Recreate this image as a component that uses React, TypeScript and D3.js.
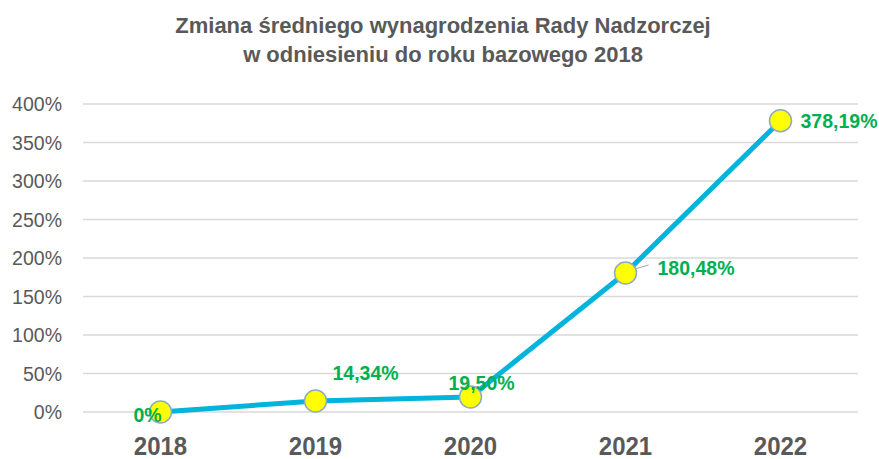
import React from "react";
import * as d3 from "d3";

const years = ["2018", "2019", "2020", "2021", "2022"];
const values = [0, 14.34, 19.5, 180.48, 378.19];
const labels = ["0%", "14,34%", "19,50%", "180,48%", "378,19%"];
const yTicks = [0, 50, 100, 150, 200, 250, 300, 350, 400];
// label offsets relative to the point (dx, dy for text start/baseline)
const labelAnchors: Array<[number, number]> = [
  [-27, 10],
  [17, -21],
  [-22, -7],
  [32, 2],
  [20, 7],
];

const W = 879;
const H = 459;
const left = 83;
const right = 858;
const top = 104;
const bottom = 412;

export default function App() {
  const x = d3.scaleBand<string>().domain(years).range([left, right]);
  const y = d3.scaleLinear().domain([0, 400]).range([bottom, top]);
  const cx = (i: number) => (x(years[i]) as number) + x.bandwidth() / 2;
  const line = d3
    .line<number>()
    .x((_, i) => cx(i))
    .y((d) => y(d));
  const font = "'Liberation Sans', Arial, sans-serif";
  return (
    <svg
      width={W}
      height={H}
      style={{ position: "absolute", left: 0, top: 0, background: "#fff" }}
      fontFamily={font}
    >
      <text x={443} y={33} textAnchor="middle" fontSize={22} fontWeight="bold" fill="#595959">
        Zmiana średniego wynagrodzenia Rady Nadzorczej
      </text>
      <text x={443} y={62} textAnchor="middle" fontSize={22} fontWeight="bold" fill="#595959">
        w odniesieniu do roku bazowego 2018
      </text>
      {yTicks.map((t) => (
        <g key={t}>
          <line x1={left} x2={right} y1={y(t)} y2={y(t)} stroke="#d9d9d9" strokeWidth={1.3} />
          <text x={62} y={y(t) + 7} textAnchor="end" fontSize={19.5} fill="#595959">
            {t}%
          </text>
        </g>
      ))}
      {years.map((yr, i) => (
        <text
          key={yr}
          transform={`translate(${cx(i)},455) scale(1,1.1)`}
          textAnchor="middle"
          fontSize={24}
          fontWeight="bold"
          fill="#595959"
        >
          {yr}
        </text>
      ))}
      <path d={line(values) || ""} fill="none" stroke="#00B4DC" strokeWidth={5} strokeLinejoin="round" />
      {/* leader line for 2021 */}
      <line
        x1={cx(3) + 2}
        y1={y(values[3]) - 2}
        x2={cx(3) + 23}
        y2={y(values[3]) - 8}
        stroke="#a6a6a6"
        strokeWidth={1}
      />
      {values.map((v, i) => (
        <circle key={i} cx={cx(i)} cy={y(v)} r={11} fill="#FFFF00" stroke="#8EA9C8" strokeWidth={1.5} />
      ))}
      {values.map((v, i) => (
        <text
          key={i}
          x={cx(i) + labelAnchors[i][0]}
          y={y(v) + labelAnchors[i][1]}
          fontSize={19.5}
          fontWeight="bold"
          fill="#00B050"
        >
          {labels[i]}
        </text>
      ))}
    </svg>
  );
}
